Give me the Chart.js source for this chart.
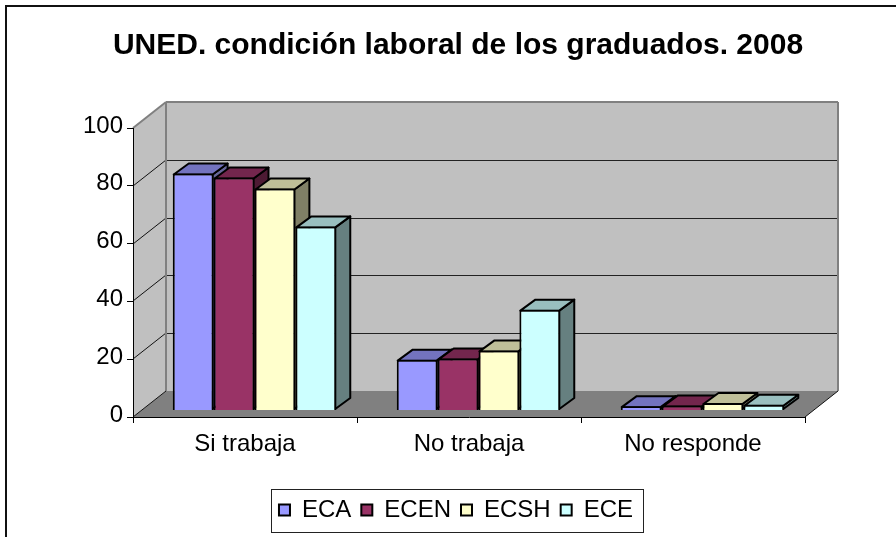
<!DOCTYPE html>
<html>
<head>
<meta charset="utf-8">
<style>html,body{margin:0;padding:0;background:#fff}canvas{display:block}</style>
<script src="https://cdn.jsdelivr.net/npm/chart.js@4"></script>
</head>
<body>
<canvas id="c" width="896" height="537"></canvas>
<script>
const chartTitle = 'UNED. condición laboral de los graduados. 2008';
const categories = ['Si trabaja', 'No trabaja', 'No responde'];
const seriesNames = ['ECA', 'ECEN', 'ECSH', 'ECE'];
const seriesECA  = [82, 17.6, 1.5];
const seriesECEN = [80.6, 18, 1.7];
const seriesECSH = [76.8, 20.8, 2.6];
const seriesECE  = [63.7, 34.9, 2];
const fronts = ['#9999FF', '#993366', '#FFFFCC', '#CCFFFF'];
const tops   = ['#7373BF', '#73264D', '#BFBF99', '#99BFBF'];
const sides  = ['#666699', '#4D1A33', '#808066', '#668080'];

const FONT = '"Liberation Sans", Arial, sans-serif';
const WALL = {dx: 33, dy: -26};      // floor/wall depth
const BAR_OFF = {dx: 9.5, dy: -6.5}; // bar front plane inside the floor
const BAR_DEPTH = {dx: 15, dy: -11}; // bar depth

function poly(ctx, pts, fill, stroke, lw) {
  ctx.beginPath();
  pts.forEach((p, i) => i ? ctx.lineTo(p[0], p[1]) : ctx.moveTo(p[0], p[1]));
  ctx.closePath();
  if (fill) { ctx.fillStyle = fill; ctx.fill(); }
  if (stroke) { ctx.strokeStyle = stroke; ctx.lineWidth = lw; ctx.stroke(); }
}
function seg(ctx, x1, y1, x2, y2, color, lw) {
  ctx.beginPath(); ctx.moveTo(x1, y1); ctx.lineTo(x2, y2);
  ctx.strokeStyle = color; ctx.lineWidth = lw; ctx.stroke();
}

const box3d = {
  id: 'box3d',
  afterLayout(chart) {
    // centre title and legend on the whole frame, not on the plot
    const t = chart.titleBlock, l = chart.legend;
    t.left = 20; t.right = 896;
    l.left = 17; l.right = 895;
    l.top = 488;
  },
  beforeDraw(chart) {
    const ctx = chart.ctx, a = chart.chartArea, y = chart.scales.y;
    const {dx, dy} = WALL;
    ctx.save();
    // outer frame, open to the page's right and bottom
    ctx.lineCap = 'butt';
    ctx.beginPath(); ctx.moveTo(6, 537); ctx.lineTo(6, 6); ctx.lineTo(896, 6);
    ctx.strokeStyle = '#111'; ctx.lineWidth = 2; ctx.stroke();
    // walls and floor
    const y0 = y.getPixelForValue(0), yT = y.getPixelForValue(100);
    poly(ctx, [[a.left, y0], [a.left + dx, y0 + dy], [a.left + dx, yT + dy], [a.left, yT]], '#C0C0C0');
    poly(ctx, [[a.left + dx, yT + dy], [a.right + dx, yT + dy], [a.right + dx, y0 + dy], [a.left + dx, y0 + dy]], '#C0C0C0');
    poly(ctx, [[a.left, y0], [a.left + dx, y0 + dy], [a.right + dx, y0 + dy], [a.right, y0]], '#808080');
    // grid lines along side wall and back wall
    y.ticks.forEach(t => {
      if (t.value <= 0 || t.value >= 100) return;
      const p = Math.round(y.getPixelForValue(t.value));
      seg(ctx, a.left, p, a.left + dx, p + dy, '#111', 1);
      seg(ctx, a.left + dx, p + dy + 0.5, a.right + dx, p + dy + 0.5, '#222', 1);
    });
    // wall outlines
    seg(ctx, a.left, yT, a.left + dx, yT + dy, '#808080', 2);
    seg(ctx, a.left + dx, yT + dy, a.right + dx, yT + dy, '#808080', 2);
    seg(ctx, a.left + dx, yT + dy, a.left + dx, y0 + dy, '#808080', 2);
    seg(ctx, a.right + dx, yT + dy, a.right + dx, y0 + dy, '#808080', 2);
    seg(ctx, a.left, y0, a.left + dx, y0 + dy, '#111', 1);
    seg(ctx, a.right, y0, a.right + dx, y0 + dy, '#111', 1);
    ctx.restore();
  },
  beforeDatasetsDraw(chart) {
    const ctx = chart.ctx;
    ctx.save();
    ctx.translate(BAR_OFF.dx, BAR_OFF.dy);
    ctx.lineJoin = 'round';
    const {dx, dy} = BAR_DEPTH;
    chart.data.datasets.forEach((ds, i) => {
      chart.getDatasetMeta(i).data.forEach(el => {
        const {x, y, base, width} = el.getProps(['x', 'y', 'base', 'width'], true);
        const l = x - width / 2 + 1, r = x + width / 2 - 1, t = y + 1, b = base - 1;
        poly(ctx, [[r, t], [r + dx, t + dy], [r + dx, b + dy], [r, b]], sides[i], '#000', 2);
        poly(ctx, [[l, t], [r, t], [r + dx, t + dy], [l + dx, t + dy]], tops[i], '#000', 2);
        el.draw(ctx);
      });
    });
    ctx.restore();
    return false; // bars were drawn left to right above
  },
  afterDraw(chart) {
    const ctx = chart.ctx;
    ctx.save();
    ctx.strokeStyle = '#222'; ctx.lineWidth = 1;
    ctx.strokeRect(271.5, 489.5, 372, 43);
    ctx.restore();
  }
};

const seriesValues = [seriesECA, seriesECEN, seriesECSH, seriesECE];
Chart.defaults.color = '#000';
Chart.defaults.font.family = FONT;

new Chart(document.getElementById('c'), {
  type: 'bar',
  data: {
    labels: categories,
    datasets: seriesNames.map((name, i) => ({
      label: name,
      data: seriesValues[i],
      backgroundColor: fronts[i],
      borderColor: '#000',
      borderWidth: 2,
      categoryPercentage: 0.73,
      barPercentage: 1
    }))
  },
  options: {
    responsive: false,
    animation: false,
    layout: {padding: {left: 6, right: 91, top: 0, bottom: 0}},
    plugins: {
      tooltip: {enabled: false},
      title: {
        display: true,
        text: chartTitle,
        color: '#000',
        font: {family: FONT, size: 30, weight: 'bold', lineHeight: 1.2},
        padding: {top: 28, bottom: 64}
      },
      legend: {
        position: 'bottom',
        labels: {
          boxWidth: 11, boxHeight: 11, padding: 10,
          color: '#000',
          font: {family: FONT, size: 24}
        }
      }
    },
    scales: {
      x: {
        afterFit(s) { s.height = 76; },
        grid: {drawOnChartArea: false, drawTicks: true, tickLength: 6, color: '#000', offset: true},
        border: {color: '#000', width: 1},
        ticks: {font: {family: FONT, size: 24}, color: '#000', padding: 7, maxRotation: 0}
      },
      y: {
        min: 0, max: 100,
        afterFit(s) { s.width = 127; },
        grid: {drawOnChartArea: false, drawTicks: true, tickLength: 6, color: '#000'},
        border: {color: '#000', width: 1},
        ticks: {stepSize: 20, font: {family: FONT, size: 24}, color: '#000', padding: 4, labelOffset: -2}
      }
    }
  },
  plugins: [box3d]
});
</script>
</body>
</html>
